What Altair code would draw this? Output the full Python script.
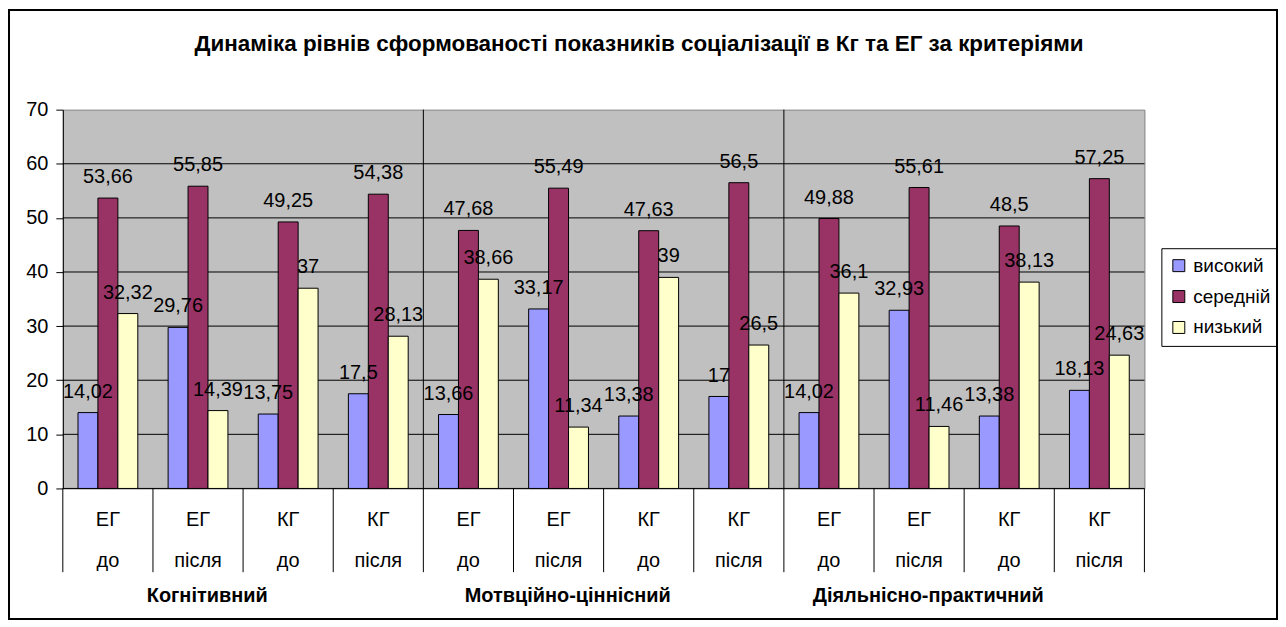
import altair as alt
import pandas as pd

criteria = ["Когнітивний", "Мотвційно-ціннісний", "Діяльнісно-практичний"]
groups = ["ЕГ", "ЕГ", "КГ", "КГ"]
times = ["до", "після", "до", "після"]
series = ["високий", "середній", "низький"]
high = [14.02, 29.76, 13.75, 17.5, 13.66, 33.17, 13.38, 17, 14.02, 32.93, 13.38, 18.13]
mid = [53.66, 55.85, 49.25, 54.38, 47.68, 55.49, 47.63, 56.5, 49.88, 55.61, 48.5, 57.25]
low = [32.32, 14.39, 37, 28.13, 38.66, 11.34, 39, 26.5, 36.1, 11.46, 38.13, 24.63]
colors = ["#9999FF", "#993366", "#FFFFCC"]
y_ticks = [0, 10, 20, 30, 40, 50, 60, 70]
grid_vals = [0, 10, 20, 30, 40, 50, 60]
title_text = "Динаміка рівнів сформованості показників соціалізації в Кг та ЕГ за критеріями"

FONT = "Liberation Sans"
W, H = 1085, 380
STEP = W / 12
BW = 20
PAD = {"left": 55, "top": 101, "right": 134, "bottom": 132}

cat_rows = []
for ci, c in enumerate(criteria):
    for j in range(4):
        cat_rows.append(dict(cat=f"{c}|{groups[j]}|{times[j]}", crit=c, grp=groups[j], time=times[j], idx=ci * 4 + j))
cat_df = pd.DataFrame(cat_rows)
keys = list(cat_df["cat"])

xs = alt.Scale(domain=keys, paddingInner=0, paddingOuter=0)
x_enc = alt.X("cat:N", scale=xs, axis=None)
ys = alt.Scale(domain=[0, 70])
cs = alt.Scale(domain=series, range=colors)

y_axis = alt.Axis(values=y_ticks, title=None, tickSize=7,
                  labelPadding=8, labelFontSize=20, labelColor="black", labelFont=FONT,
                  domainColor="black", tickColor="black", grid=False)

legend = alt.Legend(title=None, orient="none", legendX=1102, legendY=139,
                    strokeColor="black", padding=8, symbolType="square",
                    symbolSize=144, symbolStrokeColor="black",
                    symbolStrokeWidth=1, labelFontSize=19, labelFont=FONT,
                    labelColor="black", rowPadding=11, labelOffset=5)

grid = alt.Chart(pd.DataFrame({"g": grid_vals})).mark_rule(color="black", strokeWidth=1).encode(
    y=alt.Y("g:Q", scale=ys, axis=y_axis))

layers = [grid]
text_layers = []
for i, (s, vals) in enumerate(zip(series, [high, mid, low])):
    df = pd.DataFrame({"cat": keys, "series": s, "value": vals,
                       "label": [f"{v:g}".replace(".", ",") for v in vals]})
    shift = (i - 1) * BW
    layers.append(alt.Chart(df).mark_bar(stroke="black", strokeWidth=1, width=BW, xOffset=shift).encode(
        x=x_enc,
        y=alt.Y("value:Q", scale=ys, axis=y_axis),
        color=alt.Color("series:N", scale=cs, legend=legend)))
    text_layers.append(alt.Chart(df).mark_text(dy=-15, dx=shift, fontSize=20, font=FONT, color="black",
                                               baseline="alphabetic").encode(
        x=x_enc, y=alt.Y("value:Q", scale=ys), text="label:N"))

# separators between criteria blocks (left edge of band)
sep = alt.Chart(cat_df[cat_df["idx"].isin([4, 8])]).mark_rule(
    color="black", strokeWidth=1, xOffset=-STEP / 2).encode(
    x=x_enc, y=alt.value(0), y2=alt.value(H))

ticks_a = alt.Chart(cat_df).mark_rule(color="black", strokeWidth=1, xOffset=-STEP / 2).encode(
    x=x_enc, y=alt.value(H), y2=alt.value(H + 84))
ticks_b = alt.Chart(cat_df[cat_df["idx"] == 11]).mark_rule(color="black", strokeWidth=1, xOffset=STEP / 2).encode(
    x=x_enc, y=alt.value(H), y2=alt.value(H + 84))

row1 = alt.Chart(cat_df).mark_text(fontSize=20, font=FONT, color="black", baseline="alphabetic").encode(
    x=x_enc, y=alt.value(H + 38), text="grp:N")
row2 = alt.Chart(cat_df).mark_text(fontSize=20, font=FONT, color="black", baseline="alphabetic").encode(
    x=x_enc, y=alt.value(H + 79), text="time:N")
row3 = alt.Chart(cat_df[cat_df["idx"].isin([1, 5, 9])]).mark_text(
    fontSize=20, font=FONT, fontWeight="bold", color="black", baseline="alphabetic",
    dx=STEP / 2 - 36).encode(
    x=x_enc, y=alt.value(H + 114), text="crit:N")

title = alt.Chart(pd.DataFrame({"t": [title_text]})).mark_text(
    fontSize=22.5, font=FONT, fontWeight="bold", color="black", baseline="alphabetic").encode(
    x=alt.value(578), y=alt.value(-59), text="t:N")

border = alt.Chart(pd.DataFrame({"a": [1]})).mark_rect(fill="transparent", stroke="black", strokeWidth=2).encode(
    x=alt.value(-PAD["left"] + 1), x2=alt.value(W + PAD["right"] - 1),
    y=alt.value(-PAD["top"] + 1), y2=alt.value(H + PAD["bottom"] - 1))

chart = alt.layer(*layers, sep, *text_layers, ticks_a, ticks_b, row1, row2, row3, title, border).properties(
    width=W, height=H, padding=PAD, autosize=alt.AutoSizeParams(type="none"),
    background="white",
).configure(font=FONT).configure_view(fill="#C0C0C0", stroke="#808080", strokeWidth=1)

chart.save("out.html", embed_options={"renderer": "svg", "actions": False})
